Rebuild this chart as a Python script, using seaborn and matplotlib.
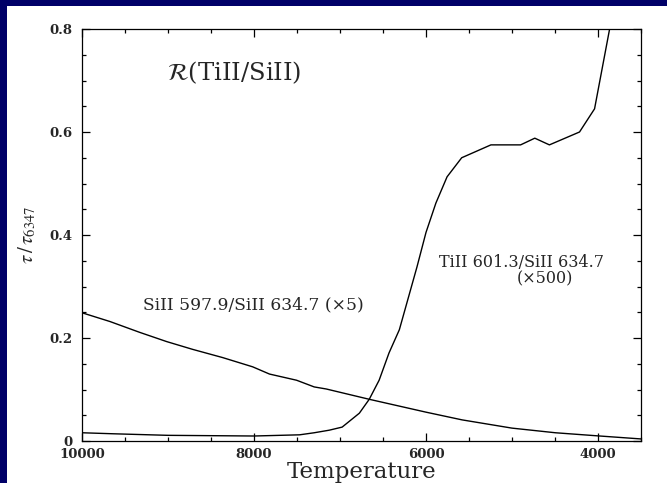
import matplotlib
matplotlib.use("Agg")
import matplotlib.pyplot as plt
from matplotlib.patches import Rectangle
from matplotlib.ticker import MultipleLocator, FixedLocator, FuncFormatter
import pandas as pd
import seaborn as sns

# SiII 597.9 / SiII 634.7 optical-depth ratio (scaled x5)
temp_si = [10000, 9675, 9330, 9015, 8715, 8365, 8015, 7820, 7505, 7300, 7160,
           6660, 6000, 5580, 5000, 4495, 4005, 3500]
si_ratio = [0.249, 0.232, 0.211, 0.193, 0.178, 0.162, 0.144, 0.130, 0.118, 0.105,
            0.101, 0.081, 0.056, 0.041, 0.025, 0.016, 0.010, 0.004]

# TiII 601.3 / SiII 634.7 optical-depth ratio (scaled x500)
temp_ti = [10000, 9630, 9000, 8000, 7470, 7300, 7125, 6975, 6775, 6660, 6545,
           6430, 6310, 6105, 6000, 5885, 5755, 5585, 5245, 4900, 4735, 4565,
           4215, 4040, 3865]
ti_ratio = [0.016, 0.014, 0.011, 0.0097, 0.012, 0.016, 0.021, 0.027, 0.054, 0.081,
            0.118, 0.171, 0.216, 0.338, 0.405, 0.462, 0.513, 0.550, 0.575, 0.575,
            0.588, 0.575, 0.600, 0.645, 0.800]

x_ticks = [10000, 8000, 6000, 4000]
y_ticks = [0, 0.2, 0.4, 0.6, 0.8]

sns.set_style("ticks")
plt.rcParams["font.family"] = ["DejaVu Serif"]
plt.rcParams["mathtext.fontset"] = "stix"

navy = "#000068"
fig = plt.figure(figsize=(6.67, 4.83), dpi=100, facecolor=navy)
# white page behind the plot, leaving a navy border on the left and top
fig.patches.append(Rectangle((7 / 667, 0), 1 - 7 / 667, 1 - 6 / 483,
                             transform=fig.transFigure, facecolor="white",
                             edgecolor="none", zorder=-10))

ax = fig.add_axes([82 / 667, 1 - 441 / 483, (641 - 82) / 667, (441 - 29) / 483])
ax.set_facecolor("white")

df_si = pd.DataFrame({"Temperature": temp_si, "ratio": si_ratio})
df_ti = pd.DataFrame({"Temperature": temp_ti, "ratio": ti_ratio})
sns.lineplot(data=df_si, x="Temperature", y="ratio", ax=ax, color="black",
             linewidth=1.0, legend=False)
sns.lineplot(data=df_ti, x="Temperature", y="ratio", ax=ax, color="black",
             linewidth=1.0, legend=False)

ax.set_xlim(10000, 3500)
ax.set_ylim(0, 0.8)

ax.xaxis.set_major_locator(FixedLocator(x_ticks))
ax.xaxis.set_minor_locator(MultipleLocator(500))
ax.yaxis.set_major_locator(FixedLocator(y_ticks))
ax.yaxis.set_minor_locator(MultipleLocator(0.05))
ax.yaxis.set_major_formatter(FuncFormatter(lambda v, p: "0" if v == 0 else f"{v:.1f}"))
ax.xaxis.set_major_formatter(FuncFormatter(lambda v, p: f"{int(v)}"))

ax.tick_params(which="both", direction="in", top=True, right=True,
               color="black", width=0.9)
ax.tick_params(which="major", length=6)
ax.tick_params(which="minor", length=3.2)
ax.tick_params(axis="x", which="major", pad=5, labelsize=9.5)
ax.tick_params(axis="y", which="major", pad=7, labelsize=9.5)
for lab in ax.get_xticklabels() + ax.get_yticklabels():
    lab.set_fontweight("bold")
for s in ax.spines.values():
    s.set_linewidth(0.9)
    s.set_color("black")
    s.set_visible(True)

ax.set_xlabel("Temperature", fontsize=16.5, labelpad=0)
ax.set_ylabel(r"$\tau\,/\,\tau_{6347}$", fontsize=15, labelpad=8)

ax.text(9015, 0.715, r"$\mathcal{R}$(TiII/SiII)", fontsize=17.5,
        ha="left", va="center")
ax.text(9293, 0.264, "SiII 597.9/SiII 634.7 (×5)", fontsize=12.3,
        ha="left", va="center")
ax.text(5849, 0.346, "TiII 601.3/SiII 634.7", fontsize=11.5,
        ha="left", va="center")
ax.text(4945, 0.315, "(×500)", fontsize=11.5, ha="left", va="center")

fig.savefig("out.png", dpi=100, facecolor=navy)
